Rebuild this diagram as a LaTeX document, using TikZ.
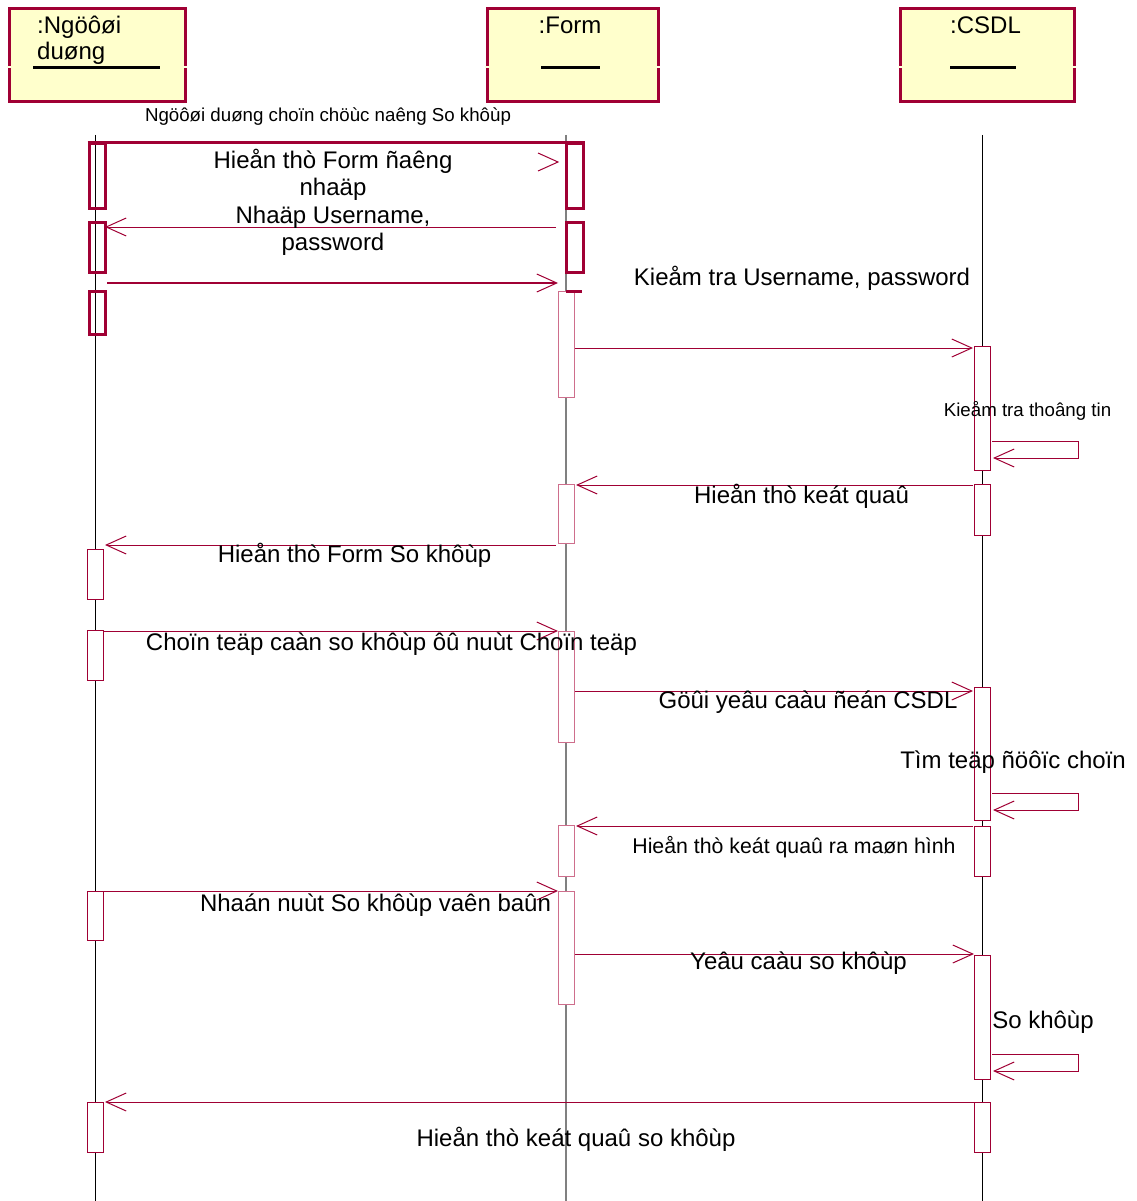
\documentclass[tikz,border=0pt]{standalone}
\usepackage{fontspec}
\setmainfont{Liberation Sans}
\usetikzlibrary{arrows.meta,calc}
\definecolor{rr}{RGB}{160,0,52}
\definecolor{rrlight}{RGB}{206,110,140}
\definecolor{objfill}{RGB}{255,255,204}
\definecolor{lifegray}{RGB}{128,128,128}
\begin{document}
\begin{tikzpicture}[x=1pt,y=-1pt,
  objbox/.style={draw=rr, fill=objfill, line width=3pt, inner sep=0pt, minimum height=93pt},
  act/.style={draw=rr, fill=white, line width=1pt, inner sep=0pt, minimum width=16pt},
  actthick/.style={draw=rr, line width=3pt, inner sep=0pt, minimum width=16pt},
  actlight/.style={act, draw=rrlight},
  life/.style={line width=1pt, black},
  msg/.style={draw=rr, line width=1pt, -{Straight Barb[length=20pt,width=18pt,line width=1pt]}},
  msgthick/.style={msg, line width=2.5pt},
  big/.style={inner sep=0pt, anchor=base, font=\fontsize{24}{27}\selectfont, align=center},
  small/.style={inner sep=0pt, anchor=base, font=\fontsize{18.7}{22}\selectfont},
  uline/.style={black, line width=2.5pt}
]
\useasboundingbox (0,0) rectangle (1136,1201);

% object boxes
\node[objbox, minimum width=176pt] (user) at (97,55.5) {};
\node[objbox, minimum width=171pt] (form) at (572.5,55.5) {};
\node[objbox, minimum width=174pt] (csdl) at (987,55.5) {};
\foreach \xx in {9,185,487,658,900,1074} \draw[objfill!60!white, line width=2pt] (\xx-2,67.5) -- (\xx+2,67.5);
\node[big, anchor=base west, align=left, font=\fontsize{24}{26}\selectfont] (userlbl) at (37,60) {:Ngöôøi\\duøng};
\node[big] (formlbl) at (570,34) {:Form};
\node[big] (csdllbl) at (985.5,34) {:CSDL};
\draw[uline] (33,67.5) -- (160,67.5);
\draw[uline] (541,67.5) -- (600,67.5);
\draw[uline] (950,67.5) -- (1016,67.5);

% lifelines
\coordinate (ut) at (95.5,135); \coordinate (ub) at (95.5,1201);
\coordinate (ft) at (566,135); \coordinate (fb) at (566,1201);
\coordinate (ct) at (982,135); \coordinate (cb) at (982,1201);
\draw[life] (ut) -- (ub);
\draw[life, lifegray, line width=1.5pt] (ft) -- (fb);
\draw[life] (ct) -- (cb);

% top (thick) activations
\node[actthick, minimum height=64pt] (A1) at (97,176) {};
\node[actthick, minimum height=50pt] (A2) at (97,247) {};
\node[actthick, minimum height=43pt] (A3) at (97,312.5) {};
\node[actthick, minimum width=17pt, minimum height=64pt] (F1) at (574.5,176) {};
\node[actthick, minimum width=17pt, minimum height=50pt] (F2) at (574.5,247) {};
\draw[rr, line width=3pt] (A1.north west) -- (F1.north east);

% Form activations
\node[actlight, minimum height=106pt] (F3) at (566,344) {};
\draw[rr, line width=3pt] (566,291) -- (582,291);
\node[actlight, minimum height=59pt] (F4) at (566,513.5) {};
\node[actlight, minimum height=111pt] (F5) at (566,686.5) {};
\node[actlight, minimum height=51pt] (F6) at (566,850.5) {};
\node[actlight, minimum height=113pt] (F7) at (566,947.5) {};

% CSDL activations
\node[act, minimum height=124pt] (C1) at (982,408) {};
\node[act, minimum height=51pt] (C2) at (982,509.5) {};
\node[act, minimum height=133pt] (C3) at (982,753.5) {};
\node[act, minimum height=50pt] (C4) at (982,851) {};
\node[act, minimum height=124pt] (C5) at (982,1017) {};
\node[act, minimum height=50pt] (C6) at (982,1127) {};

% user activations
\node[act, minimum height=50pt] (L4) at (95.5,574) {};
\node[act, minimum height=50pt] (L5) at (95.5,655) {};
\node[act, minimum height=49pt] (L6) at (95.5,915.5) {};
\node[act, minimum height=50pt] (L7) at (95.5,1127) {};

% message end points
\coordinate (h1) at (558,162);
\coordinate (m2s) at (556,227); \coordinate (m2e) at (105,227);
\coordinate (m3s) at (107,283); \coordinate (m3e) at (558,283);
\coordinate (m4s) at (575,348); \coordinate (m4e) at (973,348);
\coordinate (m5s) at (992,441); \coordinate (m5e) at (993,458);
\coordinate (m6s) at (973,485); \coordinate (m6e) at (576,485);
\coordinate (m7s) at (556,545); \coordinate (m7e) at (105,545);
\coordinate (m8s) at (104,631); \coordinate (m8e) at (558,631);
\coordinate (m9s) at (575,691); \coordinate (m9e) at (973,691);
\coordinate (m10s) at (992,793); \coordinate (m10e) at (993,810);
\coordinate (m11s) at (973,826); \coordinate (m11e) at (576,826);
\coordinate (m12s) at (103,891); \coordinate (m12e) at (558,891);
\coordinate (m13s) at (575,954); \coordinate (m13e) at (974,954);
\coordinate (m14s) at (992,1054); \coordinate (m14e) at (993,1071);
\coordinate (m15s) at (974,1102); \coordinate (m15e) at (105,1102);

% messages
\draw[rr, line width=1pt] ($(h1)+(-20,-9)$) -- (h1) -- ($(h1)+(-20,9)$);
\draw[msg] (m2s) -- (m2e);
\draw[msgthick] (m3s) -- (m3e);
\draw[msg] (m4s) -- (m4e);
\draw[msg] (m5s) -- (1078,441) -- (1078,458) -- (m5e);
\draw[msg] (m6s) -- (m6e);
\draw[msg] (m7s) -- (m7e);
\draw[msg] (m8s) -- (m8e);
\draw[msg] (m9s) -- (m9e);
\draw[msg] (m10s) -- (1078,793) -- (1078,810) -- (m10e);
\draw[msg] (m11s) -- (m11e);
\draw[msg] (m12s) -- (m12e);
\draw[msg] (m13s) -- (m13e);
\draw[msg] (m14s) -- (1078,1054) -- (1078,1071) -- (m14e);
\draw[msg] (m15s) -- (m15e);

% labels
\node[small] (t0) at (328,122) {Ngöôøi duøng choïn chöùc naêng So khôùp};
\node[big] (t1) at (333,195) {Hieån thò Form ñaêng\\nhaäp};
\node[big] (t2) at (333,250) {Nhaäp Username,\\password};
\node[big] (t3) at (802,285) {Kieåm tra Username, password};
\node[small] (t4) at (1027.5,416) {Kieåm tra thoâng tin};
\node[big] (t5) at (801.5,503) {Hieån thò keát quaû};
\node[big] (t6) at (354.5,562.5) {Hieån thò Form So khôùp};
\node[big] (t7) at (391.5,650.5) {Choïn teäp caàn so khôùp ôû nuùt Choïn teäp};
\node[big] (t8) at (808,708) {Göûi yeâu caàu ñeán CSDL};
\node[big] (t9) at (1013,768) {Tìm teäp ñöôïc choïn};
\node[small, font=\fontsize{21.3}{24}\selectfont] (t10) at (794,853) {Hieån thò keát quaû ra maøn hình};
\node[big] (t11) at (375.5,911.5) {Nhaán nuùt So khôùp vaên baûn};
\node[big] (t12) at (798.5,969) {Yeâu caàu so khôùp};
\node[big] (t13) at (1043,1028) {So khôùp};
\node[big] (t14) at (576,1146.5) {Hieån thò keát quaû so khôùp};
\end{tikzpicture}
\end{document}
